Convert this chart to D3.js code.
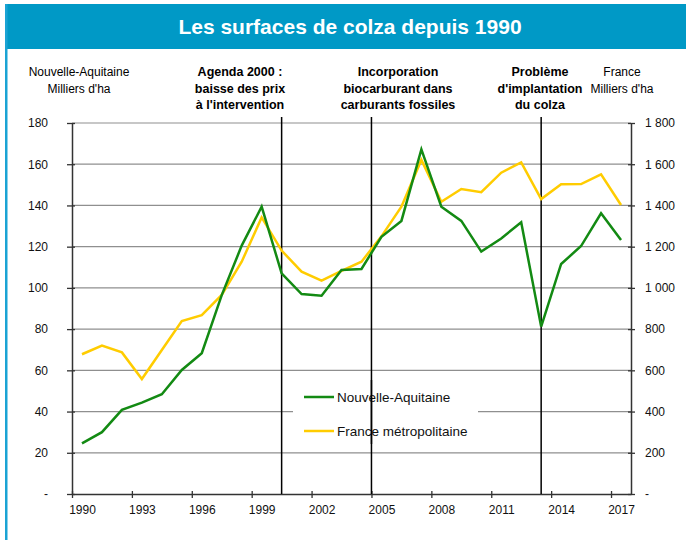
<!DOCTYPE html>
<html>
<head>
<meta charset="utf-8">
<script src="https://cdn.jsdelivr.net/npm/d3@7"></script>
<style>
  body { margin: 0; background: #fff; }
  svg { display: block; font-family: "Liberation Sans", Arial, sans-serif; }
</style>
</head>
<body>
<script>
// data
const years = d3.range(1990, 2018);
const nouvelleAquitaine = [24.6, 30, 40.8, 44.3, 48.4, 60.2, 68.3, 96.5, 120.5, 139.4,
  107.1, 97, 96.2, 108.7, 109.2, 124.8, 132.5, 167.2, 139.4, 132.5,
  117.6, 124, 131.8, 81.2, 111.6, 120.3, 136.2, 123.2];
const franceMetro = [678, 720, 687, 558, 699, 839, 868, 966, 1127, 1342,
  1181, 1079, 1035, 1082, 1127, 1250, 1394, 1621, 1418, 1480,
  1464, 1559, 1609, 1431, 1503, 1504, 1551, 1402];
const xTickYears = [1990, 1993, 1996, 1999, 2002, 2005, 2008, 2011, 2014, 2017];
const leftTicks = [0, 20, 40, 60, 80, 100, 120, 140, 160, 180];
const rightTicks = [0, 200, 400, 600, 800, 1000, 1200, 1400, 1600, 1800];
const events = [
  {year: 2000.5, lines: ["Agenda 2000 :", "baisse des prix", "à l'intervention"], labelX: 240},
  {year: 2005, lines: ["Incorporation", "biocarburant dans", "carburants fossiles"], labelX: 398},
  {year: 2013.5, lines: ["Problème", "d'implantation", "du colza"], labelX: 540}
];
const legendItems = [
  {name: "Nouvelle-Aquitaine", color: "#138a13"},
  {name: "France métropolitaine", color: "#ffcc00"}
];

const W = 686, H = 540;
const svg = d3.select("body").append("svg").attr("width", W).attr("height", H);

// frame and title band
svg.append("rect").attr("x", 5).attr("y", 4).attr("width", W - 5).attr("height", 45).attr("fill", "#0099c6");
svg.append("rect").attr("x", 5).attr("y", 4).attr("width", 2.5).attr("height", H).attr("fill", "#1aa3d4");
svg.append("text").attr("x", 350).attr("y", 34).attr("text-anchor", "middle")
  .attr("fill", "#fff").style("font-weight", "bold").style("font-size", "21px")
  .text("Les surfaces de colza depuis 1990");

const x = d3.scaleLinear().domain([1990, 2018]).range([72, 631]);
const yL = d3.scaleLinear().domain([0, 180]).range([494, 123]);
const yR = d3.scaleLinear().domain([0, 1800]).range([494, 123]);

const fmt = v => v === 0 ? "-" : d3.format(",")(v).replace(",", " ");

// gridlines
svg.append("g").selectAll("line").data(leftTicks.slice(1)).join("line")
  .attr("x1", 72).attr("x2", 631)
  .attr("y1", d => yL(d)).attr("y2", d => yL(d))
  .attr("stroke", "#8f8f8f").attr("stroke-width", 1.2);

// legend box hides the grid behind it
svg.append("rect").attr("x", 293).attr("y", 380).attr("width", 185).attr("height", 64).attr("fill", "#fff");

// axes
const axL = svg.append("g").attr("transform", "translate(72,0)")
  .call(d3.axisLeft(yL).tickValues(leftTicks).tickFormat(fmt).tickSizeInner(5).tickSizeOuter(0));
const axR = svg.append("g").attr("transform", "translate(631,0)")
  .call(d3.axisRight(yR).tickValues(rightTicks).tickFormat(fmt).tickSizeInner(4).tickSizeOuter(0));
const axB = svg.append("g").attr("transform", "translate(0,494)")
  .call(d3.axisBottom(x).tickValues(xTickYears).tickFormat(d3.format("d")).tickSizeInner(4).tickSizeOuter(0));

[axL, axR, axB].forEach(a => {
  a.select(".domain").attr("stroke", "#333").attr("stroke-width", 1.5);
  a.selectAll(".tick line").attr("stroke", "#333").attr("stroke-width", 1.3);
  a.selectAll(".tick text").attr("fill", "#111").style("font-size", "12px").style("font-family", "Liberation Sans, Arial, sans-serif");
});
// ticks crossing the axis
axL.selectAll(".tick line").attr("x1", 3);
axR.selectAll(".tick line").attr("x1", -3);
axB.selectAll(".tick line").attr("y1", -3);
axL.selectAll(".tick text").attr("x", -24);
axR.selectAll(".tick text").attr("x", 14);
// year labels sit in the middle of their category
axB.selectAll(".tick text").attr("y", 11).attr("x", x(1990.5) - x(1990));

// event lines
svg.append("g").selectAll("line").data(events).join("line")
  .attr("x1", d => x(d.year)).attr("x2", d => x(d.year))
  .attr("y1", 117).attr("y2", 494)
  .attr("stroke", "#000").attr("stroke-width", 1.5);

// series
const line = vals => d3.line().x((d, i) => x(years[i] + 0.5)).y(d => vals(d));
svg.append("path").datum(franceMetro)
  .attr("d", line(yR)).attr("fill", "none").attr("stroke", legendItems[1].color).attr("stroke-width", 2.5);
svg.append("path").datum(nouvelleAquitaine)
  .attr("d", line(yL)).attr("fill", "none").attr("stroke", legendItems[0].color).attr("stroke-width", 2.5);

// event labels
events.forEach(e => {
  const t = svg.append("text").attr("text-anchor", "middle").style("font-weight", "bold").style("font-size", "12.5px");
  e.lines.forEach((l, i) => t.append("tspan").attr("x", e.labelX).attr("y", 76 + i * 16.5).text(l));
});

// axis titles
const leftTitle = svg.append("text").attr("text-anchor", "middle").style("font-size", "12px");
["Nouvelle-Aquitaine", "Milliers d'ha"].forEach((l, i) =>
  leftTitle.append("tspan").attr("x", 79).attr("y", 76 + i * 16.5).text(l));
const rightTitle = svg.append("text").attr("text-anchor", "middle").style("font-size", "12px");
["France", "Milliers d'ha"].forEach((l, i) =>
  rightTitle.append("tspan").attr("x", 622).attr("y", 76 + i * 16.5).text(l));

// legend
const lg = svg.append("g").selectAll("g").data(legendItems).join("g")
  .attr("transform", (d, i) => `translate(304,${397 + i * 34})`);
lg.append("line").attr("x1", 0).attr("x2", 30).attr("stroke", d => d.color).attr("stroke-width", 2.5);
lg.append("text").attr("x", 33).attr("dy", "0.35em").style("font-size", "13.5px").attr("fill", "#111").text(d => d.name);

// the Incorporation line is drawn over the legend
svg.append("line").attr("x1", x(2005)).attr("x2", x(2005)).attr("y1", 380).attr("y2", 444)
  .attr("stroke", "#000").attr("stroke-width", 1.5);
</script>
</body>
</html>
